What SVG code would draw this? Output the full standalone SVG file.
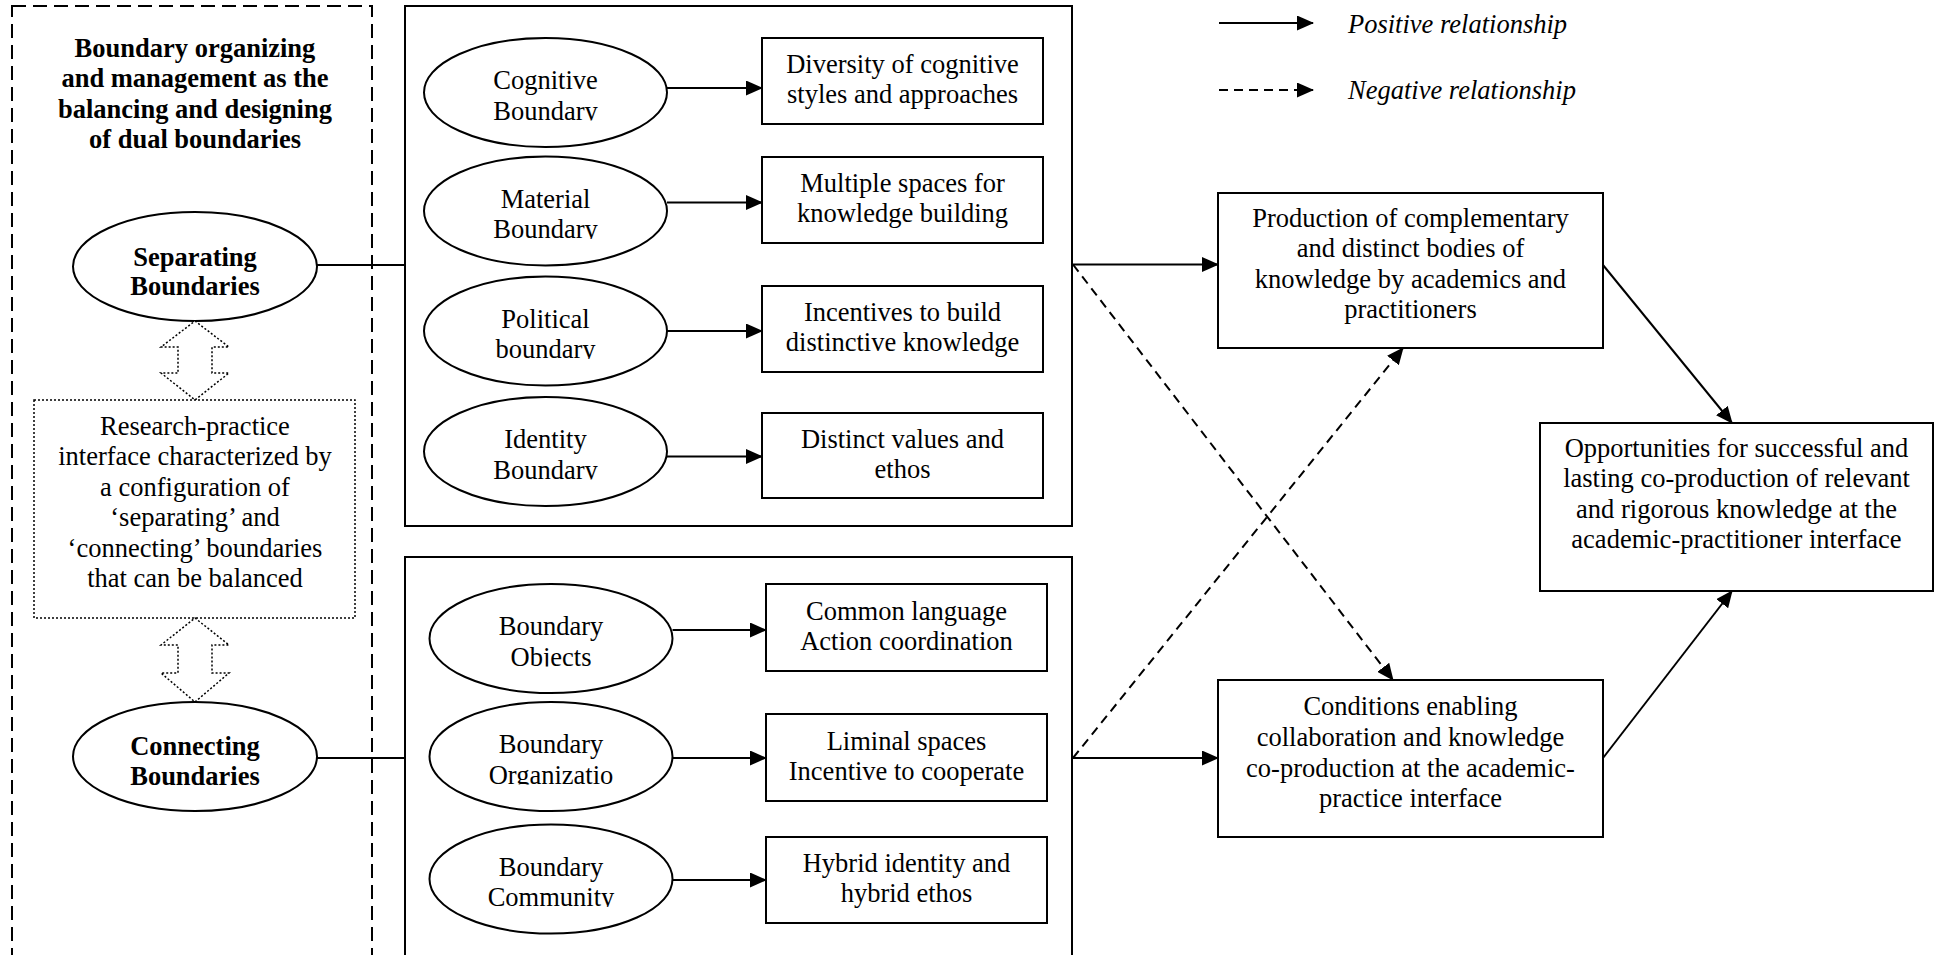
<svg xmlns="http://www.w3.org/2000/svg" width="1942" height="955" viewBox="0 0 1942 955">
<defs>
<style>
.t{font-family:"Liberation Serif","Times New Roman",serif;font-size:26.5px;fill:#000;text-anchor:middle}
.b{font-weight:bold}
.i{font-style:italic;text-anchor:start}
.n{fill:#fff;stroke:#000;stroke-width:2}
.frame{fill:none;stroke:#000;stroke-width:2}
.dframe{fill:none;stroke:#000;stroke-width:2;stroke-dasharray:14 7}
.dot{fill:#fff;stroke:#000;stroke-width:1.5;stroke-dasharray:2 2}
.c{fill:none;stroke:#000;stroke-width:2}
.cd{fill:none;stroke:#000;stroke-width:2;stroke-dasharray:9 6}
</style>
<marker id="ah" markerWidth="17" markerHeight="15" refX="16" refY="7.5" orient="auto" markerUnits="userSpaceOnUse">
<path d="M0,0 L17,7.5 L0,15 z" fill="#000"/>
</marker>
<clipPath id="clipE"><rect x="-125" y="-60" width="250" height="88"/></clipPath>
</defs>
<rect width="1942" height="955" fill="#fff"/>

<g id="left-panel">
<rect class="dframe" x="12" y="6" width="360" height="1000"/>
<text class="t b"><tspan x="195" y="57">Boundary organizing</tspan><tspan x="195" y="87">and management as the</tspan><tspan x="195" y="117.5">balancing and designing</tspan><tspan x="195" y="148">of dual boundaries</tspan></text>
</g>

<g id="separating" transform="translate(195,266.5)">
<ellipse class="n" rx="122" ry="54.5"/>
<text class="t b"><tspan x="0" y="-1">Separating</tspan><tspan x="0" y="28.5">Boundaries</tspan></text>
</g>

<g id="interface">
<polygon class="dot" points="195,321 229,347 212,347 212,373 229,373 195,400 161,373 178,373 178,347 161,347"/>
<rect class="dot" x="34" y="400" width="321" height="218"/>
<text class="t"><tspan x="195" y="435">Research-practice</tspan><tspan x="195" y="465.4">interface characterized by</tspan><tspan x="195" y="495.8">a configuration of</tspan><tspan x="195" y="526.2">‘separating’ and</tspan><tspan x="195" y="556.6">‘connecting’ boundaries</tspan><tspan x="195" y="587">that can be balanced</tspan></text>
<polygon class="dot" points="195,618 229,645 212,645 212,673 229,673 195,702 161,673 178,673 178,645 161,645"/>
</g>

<g id="connecting" transform="translate(195,756.5)">
<ellipse class="n" rx="122" ry="54.5"/>
<text class="t b"><tspan x="0" y="-2">Connecting</tspan><tspan x="0" y="28">Boundaries</tspan></text>
</g>

<g id="separating-group">
<rect class="frame" x="405" y="6" width="667" height="520"/>
</g>
<g id="connecting-group">
<rect class="frame" x="405" y="557" width="667" height="460"/>
</g>

<g id="cognitive" transform="translate(545.5,92.5)">
<ellipse class="n" rx="121.5" ry="54.5"/>
<text class="t" clip-path="url(#clipE)"><tspan x="0" y="-3.5">Cognitive</tspan><tspan x="0" y="27">Boundary</tspan></text>
</g>
<g id="material" transform="translate(545.5,211)">
<ellipse class="n" rx="121.5" ry="54.5"/>
<text class="t" clip-path="url(#clipE)"><tspan x="0" y="-3.5">Material</tspan><tspan x="0" y="27">Boundary</tspan></text>
</g>
<g id="political" transform="translate(545.5,331)">
<ellipse class="n" rx="121.5" ry="54.5"/>
<text class="t" clip-path="url(#clipE)"><tspan x="0" y="-3.5">Political</tspan><tspan x="0" y="27">boundary</tspan></text>
</g>
<g id="identity" transform="translate(545.5,451.5)">
<ellipse class="n" rx="121.5" ry="54.5"/>
<text class="t" clip-path="url(#clipE)"><tspan x="0" y="-3.5">Identity</tspan><tspan x="0" y="27">Boundary</tspan></text>
</g>

<g id="diversity">
<rect class="n" x="762" y="38" width="281" height="86"/>
<text class="t"><tspan x="902.5" y="73">Diversity of cognitive</tspan><tspan x="902.5" y="103">styles and approaches</tspan></text>
</g>
<g id="multiple">
<rect class="n" x="762" y="157" width="281" height="86"/>
<text class="t"><tspan x="902.5" y="192">Multiple spaces for</tspan><tspan x="902.5" y="222">knowledge building</tspan></text>
</g>
<g id="incentives">
<rect class="n" x="762" y="286" width="281" height="86"/>
<text class="t"><tspan x="902.5" y="321">Incentives to build</tspan><tspan x="902.5" y="351">distinctive knowledge</tspan></text>
</g>
<g id="distinct">
<rect class="n" x="762" y="413" width="281" height="85"/>
<text class="t"><tspan x="902.5" y="447.5">Distinct values and</tspan><tspan x="902.5" y="477.5">ethos</tspan></text>
</g>

<g id="objects" transform="translate(551,638.5)">
<ellipse class="n" rx="121.5" ry="54.5"/>
<text class="t" clip-path="url(#clipE)"><tspan x="0" y="-3.5">Boundary</tspan><tspan x="0" y="27">Objects</tspan></text>
</g>
<g id="organization" transform="translate(551,756.5)">
<ellipse class="n" rx="121.5" ry="54.5"/>
<text class="t" clip-path="url(#clipE)"><tspan x="0" y="-3.5">Boundary</tspan><tspan x="0" y="27">Organizatio</tspan></text>
</g>
<g id="community" transform="translate(551,879)">
<ellipse class="n" rx="121.5" ry="54.5"/>
<text class="t" clip-path="url(#clipE)"><tspan x="0" y="-3.5">Boundary</tspan><tspan x="0" y="27">Community</tspan></text>
</g>

<g id="common">
<rect class="n" x="766" y="584" width="281" height="87"/>
<text class="t"><tspan x="906.5" y="619.5">Common language</tspan><tspan x="906.5" y="649.5">Action coordination</tspan></text>
</g>
<g id="liminal">
<rect class="n" x="766" y="714" width="281" height="87"/>
<text class="t"><tspan x="906.5" y="749.5">Liminal spaces</tspan><tspan x="906.5" y="779.5">Incentive to cooperate</tspan></text>
</g>
<g id="hybrid">
<rect class="n" x="766" y="837" width="281" height="86"/>
<text class="t"><tspan x="906.5" y="872">Hybrid identity and</tspan><tspan x="906.5" y="902">hybrid ethos</tspan></text>
</g>

<g id="production">
<rect class="n" x="1218" y="193" width="385" height="155"/>
<text class="t"><tspan x="1410.5" y="227">Production of complementary</tspan><tspan x="1410.5" y="257.3">and distinct bodies of</tspan><tspan x="1410.5" y="287.6">knowledge by academics and</tspan><tspan x="1410.5" y="318">practitioners</tspan></text>
</g>
<g id="conditions">
<rect class="n" x="1218" y="680" width="385" height="157"/>
<text class="t"><tspan x="1410.5" y="715">Conditions enabling</tspan><tspan x="1410.5" y="745.5">collaboration and knowledge</tspan><tspan x="1410.5" y="776.5">co-production at the academic-</tspan><tspan x="1410.5" y="807">practice interface</tspan></text>
</g>
<g id="opportunities">
<rect class="n" x="1540" y="423" width="393" height="168"/>
<text class="t"><tspan x="1736.5" y="457">Opportunities for successful and</tspan><tspan x="1736.5" y="487.3">lasting co-production of relevant</tspan><tspan x="1736.5" y="517.6">and rigorous knowledge at the</tspan><tspan x="1736.5" y="548">academic-practitioner interface</tspan></text>
</g>

<g id="legend">
<line class="c" x1="1219" y1="23" x2="1313" y2="23" marker-end="url(#ah)"/>
<text class="t i" x="1348" y="33">Positive relationship</text>
<line class="cd" x1="1219" y1="90" x2="1313" y2="90" stroke-dasharray="8 7" marker-end="url(#ah)"/>
<text class="t i" x="1348" y="99">Negative relationship</text>
</g>

<g id="connectors">
<line class="c" x1="317" y1="265" x2="405" y2="265"/>
<line class="c" x1="317" y1="758" x2="405" y2="758"/>
<line class="c" x1="667" y1="88" x2="762" y2="88" marker-end="url(#ah)"/>
<line class="c" x1="667" y1="202.5" x2="762" y2="202.5" marker-end="url(#ah)"/>
<line class="c" x1="667" y1="331" x2="762" y2="331" marker-end="url(#ah)"/>
<line class="c" x1="667" y1="456.5" x2="762" y2="456.5" marker-end="url(#ah)"/>
<line class="c" x1="672.5" y1="630" x2="766" y2="630" marker-end="url(#ah)"/>
<line class="c" x1="672.5" y1="758" x2="766" y2="758" marker-end="url(#ah)"/>
<line class="c" x1="672.5" y1="880" x2="766" y2="880" marker-end="url(#ah)"/>
<line class="c" x1="1072" y1="264.5" x2="1218" y2="264.5" marker-end="url(#ah)"/>
<line class="c" x1="1072" y1="758" x2="1218" y2="758" marker-end="url(#ah)"/>
<line class="cd" x1="1073" y1="264.5" x2="1393" y2="680" marker-end="url(#ah)"/>
<line class="cd" x1="1073" y1="758" x2="1403" y2="348" marker-end="url(#ah)"/>
<line class="c" x1="1603" y1="265" x2="1732" y2="423" marker-end="url(#ah)"/>
<line class="c" x1="1603" y1="758" x2="1732" y2="591" marker-end="url(#ah)"/>
</g>
</svg>
